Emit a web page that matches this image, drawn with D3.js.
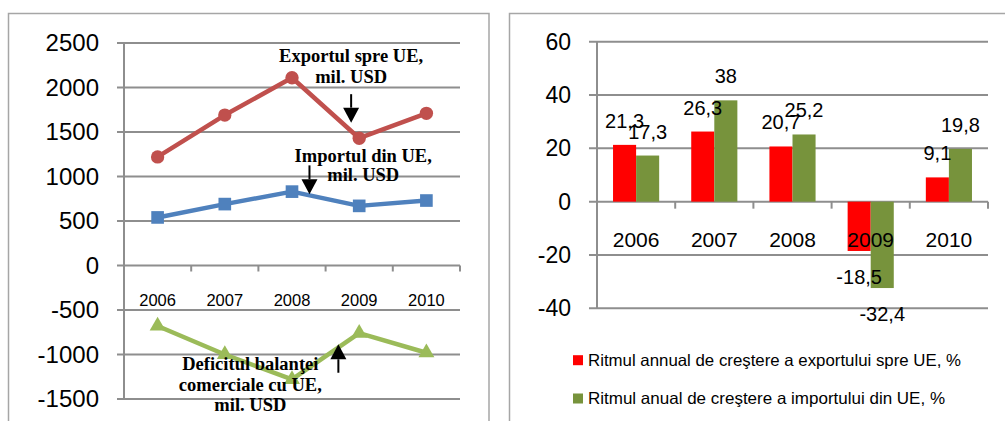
<!DOCTYPE html>
<html>
<head>
<meta charset="utf-8">
<script src="https://cdn.jsdelivr.net/npm/d3@7"></script>
<style>
  html, body { margin: 0; padding: 0; background: #ffffff; }
  svg { display: block; }
</style>
</head>
<body>
<svg id="chart" width="1005" height="421"></svg>
<script>
// ---------------- DATA ----------------
const years = ["2006", "2007", "2008", "2009", "2010"];
// Left panel (mil. USD)
const exportUE = [1220, 1690, 2110, 1430, 1710];
const importUE = [540, 690, 830, 670, 730];
const deficitUE = [-680, -1000, -1280, -760, -980];
const leftTicks = [-1500, -1000, -500, 0, 500, 1000, 1500, 2000, 2500];
// Right panel (%)
const growthExport = [21.3, 26.3, 20.7, -18.5, 9.1];
const growthImport = [17.3, 38, 25.2, -32.4, 19.8];
const rightTicks = [-40, -20, 0, 20, 40, 60];
const legendLabels = [
  "Ritmul annual de creştere a exportului spre UE, %",
  "Ritmul anual de creştere a importului din UE, %"
];
const annotExport = ["Exportul spre UE,", "mil. USD"];
const annotImport = ["Importul din UE,", "mil. USD"];
const annotDeficit = ["Deficitul balanţei", "comerciale cu UE,", "mil. USD"];

// ---------------- STYLES ----------------
const GRID = "#8e8e8e";
const BORDER = "#a6a6a6";
const RED_L = "#C0504D", BLUE_L = "#4F81BD", GREEN_L = "#9BBB59";
const RED_B = "#FF0000", GREEN_B = "#77933C";
const SANS = "'Liberation Sans', Arial, sans-serif";
const SERIF = "'Liberation Serif', 'Times New Roman', serif";

const svg = d3.select("#chart");

// panel borders
svg.append("rect").attr("x", 8.5).attr("y", 13.5).attr("width", 480.5).attr("height", 500)
  .attr("fill", "none").attr("stroke", BORDER).attr("stroke-width", 1.5);
svg.append("rect").attr("x", 509.5).attr("y", 13.5).attr("width", 600).attr("height", 500)
  .attr("fill", "none").attr("stroke", BORDER).attr("stroke-width", 1.5);

// ================= LEFT PANEL =================
{
  const x = d3.scaleBand().domain(years).range([124, 460]);
  const xc = d => x(d) + x.bandwidth() / 2;
  const xi = d3.scaleLinear().domain([0, 4]).range([xc(years[0]), xc(years[4])]);
  const y = d3.scaleLinear().domain([-1500, 2500]).range([399, 43]);
  const g = svg.append("g");

  // gridlines (with left tick stubs)
  g.selectAll("line.grid").data(leftTicks).join("line")
    .attr("x1", 117).attr("x2", 460)
    .attr("y1", d => y(d)).attr("y2", d => y(d))
    .attr("stroke", GRID).attr("stroke-width", 2);
  // y axis line
  g.append("line").attr("x1", 124).attr("x2", 124).attr("y1", y(2500)).attr("y2", y(-1500))
    .attr("stroke", GRID).attr("stroke-width", 2);
  // x axis ticks at category boundaries
  const bounds = years.map(d => x(d) + x.bandwidth());
  g.selectAll("line.xt").data(bounds).join("line")
    .attr("x1", d => d).attr("x2", d => d).attr("y1", y(0)).attr("y2", y(0) + 6)
    .attr("stroke", GRID).attr("stroke-width", 2);

  // y tick labels
  g.selectAll("text.yl").data(leftTicks).join("text")
    .attr("x", 99).attr("y", d => y(d)).attr("dy", "0.35em")
    .attr("text-anchor", "end").attr("font-family", SANS).attr("font-size", 24)
    .attr("fill", "#000").text(d => d);
  // x labels
  g.selectAll("text.xl").data(years).join("text")
    .attr("x", d => xc(d)).attr("y", 306)
    .attr("text-anchor", "middle").attr("font-family", SANS).attr("font-size", 16.5)
    .attr("fill", "#000").text(d => d);

  const line = d3.line().x((d, i) => xc(years[i])).y(d => y(d));
  const series = [
    { v: exportUE, c: RED_L, m: d3.symbolCircle, s: 140 },
    { v: importUE, c: BLUE_L, m: d3.symbolSquare, s: 160 },
    { v: deficitUE, c: GREEN_L, m: d3.symbolTriangle, s: 110 }
  ];
  series.forEach(sr => {
    g.append("path").attr("d", line(sr.v)).attr("fill", "none")
      .attr("stroke", sr.c).attr("stroke-width", 4.5).attr("stroke-linejoin", "round");
    g.selectAll(null).data(sr.v).join("path")
      .attr("transform", (d, i) => `translate(${xc(years[i])},${y(d)})`)
      .attr("d", d3.symbol().type(sr.m).size(sr.s)).attr("fill", sr.c);
  });

  // annotations
  const addText = (lines, xIdx, baseVals) => {
    lines.forEach((t, k) => {
      g.append("text").attr("x", xi(xIdx)).attr("y", y(baseVals[k]))
        .attr("text-anchor", "middle").attr("font-family", SERIF).attr("font-weight", "bold")
        .attr("font-size", 18.5).attr("fill", "#000").text(t);
    });
  };
  const arrow = (xIdx, v0, v1) => {
    const X = xi(xIdx), Y0 = y(v0), Y1 = y(v1);
    const dir = Y1 > Y0 ? 1 : -1;
    const hl = 15, hw = 8;
    g.append("line").attr("x1", X).attr("x2", X).attr("y1", Y0).attr("y2", Y1 - dir * hl)
      .attr("stroke", "#000").attr("stroke-width", 2);
    g.append("path").attr("d", `M${X},${Y1} L${X - hw},${Y1 - dir * hl} L${X + hw},${Y1 - dir * hl} Z`)
      .attr("fill", "#000");
  };
  addText(annotExport, 2.88, [2290, 2050]);
  arrow(2.88, 1925, 1605);
  addText(annotImport, 3.06, [1165, 945]);
  arrow(2.26, 1125, 800);
  addText(annotDeficit, 1.38, [-1170, -1410, -1635]);
  arrow(2.69, -1205, -885);
}

// ================= RIGHT PANEL =================
{
  const x = d3.scaleBand().domain(years).range([597, 988]);
  const xs = d3.scaleBand().domain(["exp", "imp"]).range([0.205 * x.bandwidth(), 0.795 * x.bandwidth()]);
  const y = d3.scaleLinear().domain([-40, 60]).range([308.3, 41.7]);
  const g = svg.append("g");

  g.selectAll("line.grid").data(rightTicks).join("line")
    .attr("x1", 589).attr("x2", 988)
    .attr("y1", d => y(d)).attr("y2", d => y(d))
    .attr("stroke", GRID).attr("stroke-width", 2);
  g.append("line").attr("x1", 597).attr("x2", 597).attr("y1", y(60)).attr("y2", y(-40))
    .attr("stroke", GRID).attr("stroke-width", 2);
  const bounds = years.map(d => x(d) + x.bandwidth());
  g.selectAll("line.xt").data(bounds).join("line")
    .attr("x1", d => d).attr("x2", d => d).attr("y1", y(0)).attr("y2", y(0) + 7)
    .attr("stroke", GRID).attr("stroke-width", 2);

  g.selectAll("text.yl").data(rightTicks).join("text")
    .attr("x", 571).attr("y", d => y(d)).attr("dy", "0.35em")
    .attr("text-anchor", "end").attr("font-family", SANS).attr("font-size", 23)
    .attr("fill", "#000").text(d => d);

  const groups = [
    { key: "exp", v: growthExport, c: RED_B },
    { key: "imp", v: growthImport, c: GREEN_B }
  ];
  groups.forEach(gr => {
    g.selectAll(null).data(gr.v).join("rect")
      .attr("x", (d, i) => x(years[i]) + xs(gr.key))
      .attr("width", xs.bandwidth())
      .attr("y", d => y(Math.max(0, d)))
      .attr("height", d => Math.abs(y(d) - y(0)))
      .attr("fill", gr.c);
  });

  // x labels (drawn over bars)
  g.selectAll("text.xl").data(years).join("text")
    .attr("x", d => x(d) + x.bandwidth() / 2).attr("y", 247)
    .attr("text-anchor", "middle").attr("font-family", SANS).attr("font-size", 21)
    .attr("fill", "#000").text(d => d);

  // data labels
  groups.forEach(gr => {
    g.selectAll(null).data(gr.v).join("text")
      .attr("x", (d, i) => x(years[i]) + xs(gr.key) + xs.bandwidth() / 2)
      .attr("y", d => d >= 0 ? y(d) - 17 : y(d) + 33)
      .attr("text-anchor", "middle").attr("font-family", SANS).attr("font-size", 20)
      .attr("fill", "#000").text(d => String(d).replace(".", ","));
  });

  // legend
  const legColors = [RED_B, GREEN_B];
  const legY = [365.7, 404];
  const legW = [373, 357];
  legendLabels.forEach((t, i) => {
    g.append("rect").attr("x", 573).attr("y", legY[i] - 10.5).attr("width", 10).attr("height", 10)
      .attr("fill", legColors[i]);
    g.append("text").attr("x", 588).attr("y", legY[i])
      .attr("font-family", SANS).attr("font-size", 16.5).attr("fill", "#000")
      .attr("textLength", legW[i]).attr("lengthAdjust", "spacingAndGlyphs").text(t);
  });
}
</script>
</body>
</html>
